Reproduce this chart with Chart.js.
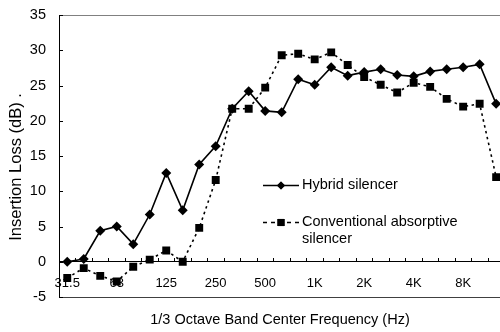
<!DOCTYPE html>
<html>
<head>
<meta charset="utf-8">
<title>Insertion Loss</title>
<script src="https://cdn.jsdelivr.net/npm/chart.js@4.4.0/dist/chart.umd.min.js"></script>
<style>
  html, body { margin: 0; padding: 0; background: #fff; overflow: hidden; }
  #insertion-loss { width: 510px; height: 332px; }
</style>
</head>
<body>
<div id="insertion-loss"><canvas id="InsertionLossStats" width="510" height="332"></canvas></div>
<script>

//
//
// Data
var band_labels = ['31.5', '40', '50', '63', '80', '100', '125', '160', '200', '250', '315', '400', '500',
  '630', '800', '1K', '1.25K', '1.6K', '2K', '2.5K', '3.15K', '4K', '5K', '6.3K', '8K', '10K', '12.5K'];
var shown_ticks = ['31.5', '63', '125', '250', '500', '1K', '2K', '4K', '8K'];

var hybrid_data = [0, 0.4, 4.4, 5.0, 2.5, 6.7, 12.6, 7.3, 13.8, 16.4, 21.7, 24.2, 21.4,
  21.2, 25.9, 25.1, 27.6, 26.4, 26.9, 27.3, 26.5, 26.3, 27.0, 27.3, 27.6, 28.0, 22.4];
var conventional_data = [-2.3, -0.9, -2.0, -2.8, -0.7, 0.3, 1.6, 0, 4.8, 11.6, 21.7, 21.7, 24.7,
  29.3, 29.5, 28.7, 29.7, 27.9, 26.2, 25.1, 24.0, 25.4, 24.8, 23.1, 22.0, 22.4, 12.0];

var series_names = ['Hybrid silencer', 'Conventional absorptive\nsilencer'];
var y_title = 'Insertion Loss (dB) .';
var x_title = '1/3 Octave Band Center Frequency (Hz)';

var font_family = "'Liberation Sans', Arial, Helvetica, sans-serif";

//
//
// Axis Ticks, Titles and Legend (drawn inside the plot like the original)
var decorations = {
  id: 'decorations',
  afterDraw: function(chart) {
    var ctx = chart.ctx;
    var area = chart.chartArea;
    var x = chart.scales.x;
    var y = chart.scales.y;
    var y0 = y.getPixelForValue(0);

    ctx.save();
    ctx.strokeStyle = '#000';
    ctx.lineWidth = 1;

    // y ticks pointing in
    y.ticks.forEach(function(t) {
      var py = Math.round(y.getPixelForValue(t.value)) + 0.5;
      ctx.beginPath();
      ctx.moveTo(area.left, py);
      ctx.lineTo(area.left + 4, py);
      ctx.stroke();
    });

    // x ticks between categories, pointing up from the zero line
    var step = x.getPixelForValue(1) - x.getPixelForValue(0);
    for (var i = 0; i <= band_labels.length; i++) {
      var px = Math.round(x.getPixelForValue(i) - step / 2) + 0.5;
      ctx.beginPath();
      ctx.moveTo(px, Math.round(y0));
      ctx.lineTo(px, Math.round(y0) - 4);
      ctx.stroke();
    }

    // titles
    ctx.fillStyle = '#000';
    ctx.textAlign = 'center';
    ctx.textBaseline = 'middle';
    ctx.font = '14.5px ' + font_family;
    ctx.fillText(x_title, 280, 320);

    ctx.save();
    ctx.translate(16, 167);
    ctx.rotate(-Math.PI / 2);
    ctx.font = '16.5px ' + font_family;
    ctx.fillText(y_title, 0, 0);
    ctx.restore();

    // legend
    var lx = 263, lw = 36, tx = 302;
    var rows = [185, 222];
    ctx.textAlign = 'left';
    ctx.font = '14.5px ' + font_family;
    chart.data.datasets.forEach(function(ds, k) {
      var ry = rows[k] + 0.5;
      ctx.beginPath();
      ctx.setLineDash(k === 0 ? [] : [4, 4]);
      ctx.lineWidth = 1.5;
      ctx.moveTo(lx, ry);
      ctx.lineTo(lx + lw, ry);
      ctx.stroke();
      ctx.setLineDash([]);
      Chart.helpers.drawPoint(ctx, {
        pointStyle: ds.pointStyle,
        radius: k === 0 ? 4 : 5,
        borderWidth: 0
      }, lx + lw / 2, ry);
      ctx.fill();
      ds.label.split('\n').forEach(function(line, j) {
        ctx.fillText(line, tx, rows[k] + j * 17);
      });
    });
    ctx.restore();
  }
};

//
//
// Draw Chart
function drawChart(labels, hybrid, conventional) {

  var loss_stats = document.getElementById('InsertionLossStats').getContext('2d');

  new Chart(loss_stats, {
    type: 'line',
    data: {
      labels: labels,
      datasets: [{
        label: series_names[0],
        data: hybrid,
        borderColor: '#000',
        backgroundColor: '#000',
        borderWidth: 1.6,
        pointStyle: 'rectRot',
        pointRadius: 5,
        pointBorderWidth: 0,
        tension: 0,
        fill: false
      }, {
        label: series_names[1],
        data: conventional,
        borderColor: '#000',
        backgroundColor: '#000',
        borderWidth: 1.6,
        borderDash: [2.5, 3.5],
        pointStyle: 'rect',
        pointRadius: 5.6,
        pointBorderWidth: 0,
        tension: 0,
        fill: false
      }]
    },
    options: {
      responsive: false,
      animation: false,
      layout: {
        padding: { top: 15, bottom: 35, left: 0, right: 0 }
      },
      plugins: {
        legend: { display: false },
        tooltip: { enabled: false }
      },
      scales: {
        x: {
          type: 'category',
          position: { y: 0 },
          offset: true,
          grid: { display: false, drawTicks: false },
          border: { display: true, color: '#000', width: 1 },
          afterFit: function(scale) { scale.paddingLeft = 0; scale.paddingRight = 0; },
          ticks: {
            autoSkip: false,
            maxRotation: 0,
            padding: 14,
            color: '#000',
            font: { family: font_family, size: 13 },
            callback: function(value) {
              var lbl = this.getLabelForValue(value);
              return shown_ticks.indexOf(lbl) >= 0 ? lbl : '';
            }
          }
        },
        y: {
          min: -5,
          max: 35,
          afterFit: function(scale) {
            scale.width = 59;
            scale.paddingTop = 0;
            scale.paddingBottom = 0;
          },
          grid: {
            drawTicks: false,
            color: function(c) {
              if (c.tick.value === 35) return '#808080';
              if (c.tick.value === -5) return '#404040';
              return 'rgba(0,0,0,0)';
            }
          },
          border: { display: true, color: '#000', width: 1 },
          ticks: {
            stepSize: 5,
            padding: 13,
            color: '#000',
            font: { family: font_family, size: 14.5 }
          }
        }
      }
    },
    plugins: [decorations]
  });
}

drawChart(band_labels, hybrid_data, conventional_data);

</script>
</body>
</html>
